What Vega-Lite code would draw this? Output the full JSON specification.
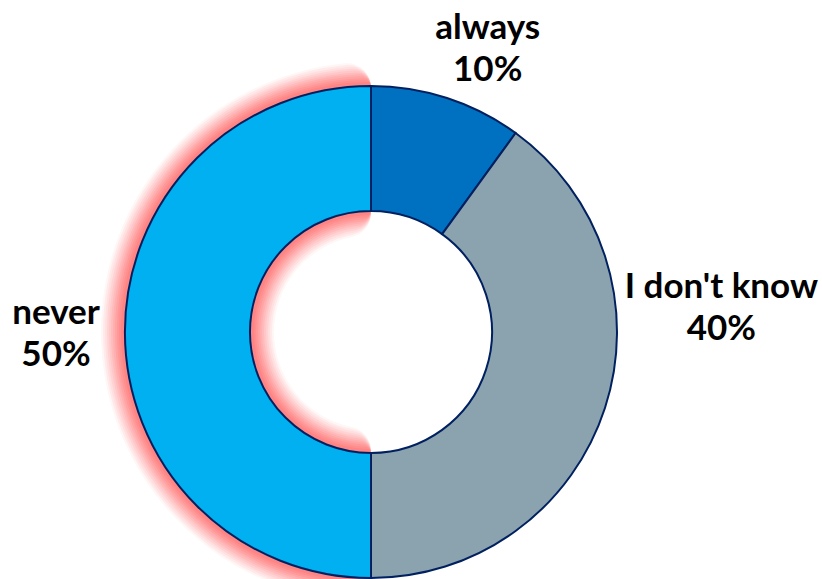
{
  "$schema": "https://vega.github.io/schema/vega-lite/v6.json",
  "width": 742,
  "height": 494,
  "autosize": "none",
  "padding": {"left": 0, "top": 85, "right": 80, "bottom": 0},
  "background": "white",
  "data": {"values": [
    {"category": "always", "value": 10, "rank": 1},
    {"category": "I don't know", "value": 40, "rank": 2},
    {"category": "never", "value": 50, "rank": 3}
  ]},
  "transform": [{"calculate": "datum.category + '\\n' + datum.value + '%'", "as": "label"}],
  "encoding": {
    "theta": {"field": "value", "type": "quantitative", "stack": true},
    "order": {"field": "rank", "type": "ordinal"}
  },
  "layer": [
    {"mark": {"type": "arc", "outerRadius": 270, "innerRadius": 97, "fill": "#ff1a1a", "cornerRadius": 24},
     "encoding": {"fillOpacity": {"condition": {"test": "datum.category === 'never'", "value": 0.04}, "value": 0}}},
    {"mark": {"type": "arc", "outerRadius": 268, "innerRadius": 99, "fill": "#ff1a1a", "cornerRadius": 22},
     "encoding": {"fillOpacity": {"condition": {"test": "datum.category === 'never'", "value": 0.05}, "value": 0}}},
    {"mark": {"type": "arc", "outerRadius": 266, "innerRadius": 101, "fill": "#ff1a1a", "cornerRadius": 20},
     "encoding": {"fillOpacity": {"condition": {"test": "datum.category === 'never'", "value": 0.05}, "value": 0}}},
    {"mark": {"type": "arc", "outerRadius": 264, "innerRadius": 103, "fill": "#ff1a1a", "cornerRadius": 18},
     "encoding": {"fillOpacity": {"condition": {"test": "datum.category === 'never'", "value": 0.06}, "value": 0}}},
    {"mark": {"type": "arc", "outerRadius": 262, "innerRadius": 105, "fill": "#ff1a1a", "cornerRadius": 16},
     "encoding": {"fillOpacity": {"condition": {"test": "datum.category === 'never'", "value": 0.06}, "value": 0}}},
    {"mark": {"type": "arc", "outerRadius": 260, "innerRadius": 107, "fill": "#ff1a1a", "cornerRadius": 14},
     "encoding": {"fillOpacity": {"condition": {"test": "datum.category === 'never'", "value": 0.07}, "value": 0}}},
    {"mark": {"type": "arc", "outerRadius": 258, "innerRadius": 109, "fill": "#ff1a1a", "cornerRadius": 12},
     "encoding": {"fillOpacity": {"condition": {"test": "datum.category === 'never'", "value": 0.07}, "value": 0}}},
    {"mark": {"type": "arc", "outerRadius": 256, "innerRadius": 111, "fill": "#ff1a1a", "cornerRadius": 10},
     "encoding": {"fillOpacity": {"condition": {"test": "datum.category === 'never'", "value": 0.08}, "value": 0}}},
    {"mark": {"type": "arc", "outerRadius": 254, "innerRadius": 113, "fill": "#ff1a1a", "cornerRadius": 8},
     "encoding": {"fillOpacity": {"condition": {"test": "datum.category === 'never'", "value": 0.08}, "value": 0}}},
    {"mark": {"type": "arc", "outerRadius": 252, "innerRadius": 115, "fill": "#ff1a1a", "cornerRadius": 6},
     "encoding": {"fillOpacity": {"condition": {"test": "datum.category === 'never'", "value": 0.08}, "value": 0}}},
    {"mark": {"type": "arc", "outerRadius": 250, "innerRadius": 117, "fill": "#ff1a1a", "cornerRadius": 4},
     "encoding": {"fillOpacity": {"condition": {"test": "datum.category === 'never'", "value": 0.08}, "value": 0}}},
    {"mark": {"type": "arc", "outerRadius": 246, "innerRadius": 121, "stroke": "#002060", "strokeWidth": 2},
     "encoding": {
       "color": {"field": "category", "type": "nominal", "legend": null,
         "scale": {"domain": ["always", "I don't know", "never"], "range": ["#0070C0", "#8BA3AE", "#00B0F0"]}}
     }},
    {"mark": {"type": "text", "radius": 300, "dx": 24, "dy": -19, "font": "Lato", "fontWeight": "bold", "fontSize": 35, "lineBreak": "\n", "lineHeight": 42, "align": "center", "baseline": "middle", "color": "black"},
     "encoding": {"text": {"field": "label"}, "opacity": {"condition": {"test": "datum.category === 'always'", "value": 1}, "value": 0}}},
    {"mark": {"type": "text", "radius": 300, "dx": 65, "dy": -138, "font": "Lato", "fontWeight": "bold", "fontSize": 35, "lineBreak": "\n", "lineHeight": 42, "align": "center", "baseline": "middle", "color": "black"},
     "encoding": {"text": {"field": "label"}, "opacity": {"condition": {"test": "datum.category === \"I don't know\"", "value": 1}, "value": 0}}},
    {"mark": {"type": "text", "radius": 300, "dx": -15, "dy": -19, "font": "Lato", "fontWeight": "bold", "fontSize": 35, "lineBreak": "\n", "lineHeight": 42, "align": "center", "baseline": "middle", "color": "black"},
     "encoding": {"text": {"field": "label"}, "opacity": {"condition": {"test": "datum.category === 'never'", "value": 1}, "value": 0}}}
  ]
}
